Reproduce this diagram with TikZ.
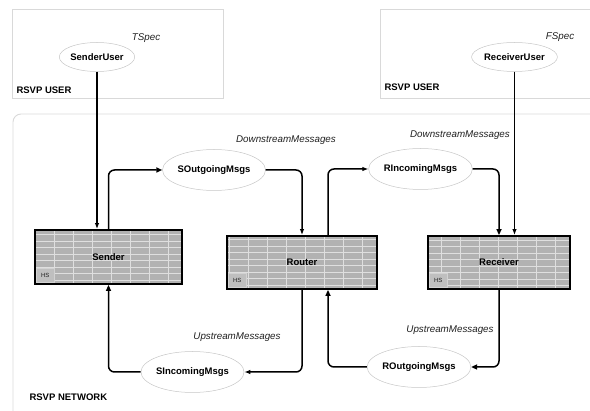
\documentclass[tikz,border=0pt]{standalone}
\usepackage{fontspec}
\setmainfont{Liberation Sans}
\usetikzlibrary{positioning, arrows.meta, shapes.geometric}

\begin{document}
\begin{tikzpicture}[
  x=1pt, y=-1pt,
  font=\fontsize{9}{10}\selectfont,
  layer/.style={draw=gray!30, line width=0.9pt},
  layername/.style={anchor=west, font=\fontsize{9.5}{11}\selectfont\bfseries},
  msg/.style={ellipse, draw=gray!45, line width=0.5pt, inner sep=0pt, minimum height=41pt,
    font=\fontsize{9.5}{11}\selectfont\bfseries},
  user/.style={msg, minimum height=29pt},
  proc/.style={draw=black, line width=1.8pt, fill=gray!60, minimum height=53pt,
    font=\fontsize{9.5}{11}\selectfont\bfseries,
    path picture={\draw[gray!25, line width=0.5pt, xstep=19pt, ystep=6.5pt]
      (path picture bounding box.south west) grid (path picture bounding box.north east);}},
  hs/.style={draw=gray!35, fill=gray!50, anchor=south west, inner sep=1.5pt,
    minimum width=18pt, minimum height=14pt, font=\fontsize{6}{7}\selectfont, text=gray!25!black},
  lbl/.style={font=\fontsize{9.8}{11}\selectfont\itshape, text=gray!25!black},
  flow/.style={-{Latex[length=6pt, width=4.5pt]}, line width=1.5pt, rounded corners=6pt},
  flowopen/.style={flow, -{Triangle[open, length=6pt, width=5pt]}}
]
\clip (0,0) rectangle (590,411);

% the two user layers and the network layer
\draw[layer] (12,9) rectangle (223,98);
\draw[layer] (380,9) rectangle (620,98);
\draw[layer, rounded corners=8pt] (13,114) rectangle (620,440);
\node[layername] (userleft) at (13,90) {RSVP USER};
\node[layername] (userright) at (381,87) {RSVP USER};
\node[layername] (network) at (26,397) {RSVP NETWORK};

% users
\node[user, minimum width=68pt] (senderuser) at (97,57) {SenderUser};
\node[user, minimum width=65pt] (receiveruser) at (514.5,57) {ReceiverUser};
\node[lbl] (tspec) at (146,38) {TSpec};
\node[lbl] (fspec) at (560,37) {FSpec};

% protocol entities
\node[proc, minimum width=147pt, minimum height=54pt] (sender) at (108.5,257) {Sender};
\node[proc, minimum width=150pt] (router) at (302,262.5) {Router};
\node[proc, minimum width=142pt] (receiver) at (499,262.5) {Receiver};
\node[hs] (senderhs) at ([shift={(2pt,2pt)}]sender.south west) {HS};
\node[hs] (routerhs) at ([shift={(2pt,2pt)}]router.south west) {HS};
\node[hs] (receiverhs) at ([shift={(2pt,2pt)}]receiver.south west) {HS};

% message queues
\node[msg, minimum width=88pt] (soutgoing) at (214,170) {SOutgoingMsgs};
\node[msg, minimum width=83pt] (rincoming) at (420.5,169) {RIncomingMsgs};
\node[msg, minimum width=81pt] (sincoming) at (192.5,372) {SIncomingMsgs};
\node[msg, minimum width=82pt] (routgoing) at (419,367) {ROutgoingMsgs};

\node[lbl] (downleft) at (286,140) {DownstreamMessages};
\node[lbl] (downright) at (460,135) {DownstreamMessages};
\node[lbl] (upleft) at (237,337) {UpstreamMessages};
\node[lbl] (upright) at (450,330) {UpstreamMessages};

% connectors
\draw[flow] (senderuser) -- (senderuser.south |- sender.north);
\draw[flow] (receiveruser) -- (receiveruser.south |- receiver.north);
\draw[flowopen] (sender.north) |- (soutgoing.west);
\draw[flow] (soutgoing.east) -| (router.north);
\draw[flow] ([xshift=26pt]router.north) |- (rincoming.west);
\draw[flowopen] (rincoming.east) -| (receiver.north);
\draw[flowopen] (receiver.south) |- (routgoing.east);
\draw[flowopen] (routgoing.west) -| ([xshift=26pt]router.south);
\draw[flow] (router.south) |- (sincoming.east);
\draw[flowopen] (sincoming.west) -| (sender.south);

\end{tikzpicture}
\end{document}
